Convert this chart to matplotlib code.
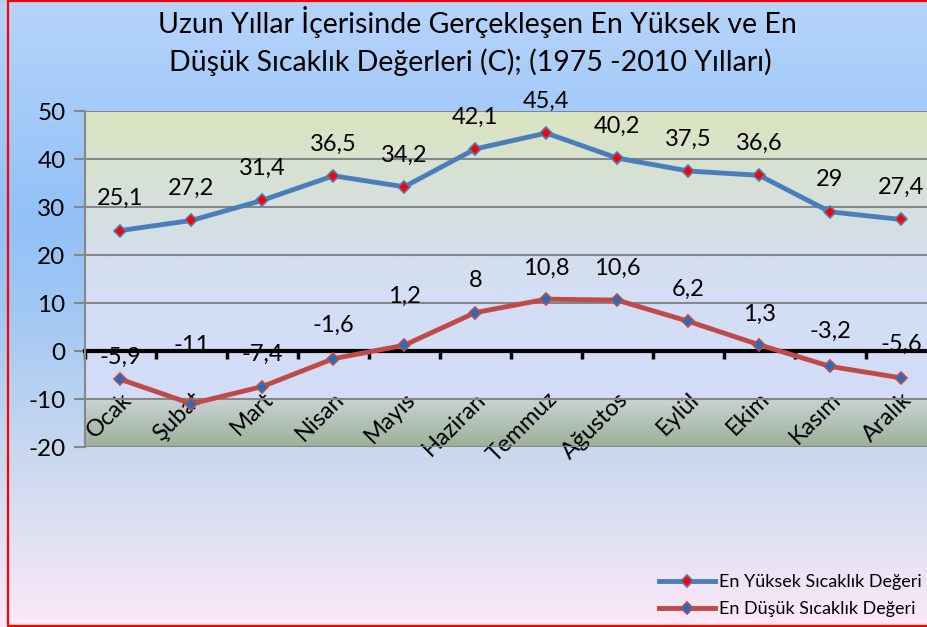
import matplotlib.pyplot as plt
import matplotlib.transforms as mtransforms
import numpy as np
from matplotlib.colors import LinearSegmentedColormap

plt.rcParams['font.family'] = ['Lato', 'DejaVu Sans']
plt.rcParams['axes.unicode_minus'] = False

months = ['Ocak', 'Şubat', 'Mart', 'Nisan', 'Mayıs', 'Haziran',
          'Temmuz', 'Ağustos', 'Eylül', 'Ekim', 'Kasım', 'Aralık']
max_temp = [25.1, 27.2, 31.4, 36.5, 34.2, 42.1, 45.4, 40.2, 37.5, 36.6, 29.0, 27.4]
min_temp = [-5.9, -11.0, -7.4, -1.6, 1.2, 8.0, 10.8, 10.6, 6.2, 1.3, -3.2, -5.6]
yticks = [-20, -10, 0, 10, 20, 30, 40, 50]

# label offsets (points) for the low series, the chart had some moved by hand
min_label_dy = [16, 42, 23, 24, 35, 23, 22, 23, 23, 22, 25, 24]

W, H = 928, 627
fig = plt.figure(figsize=(W / 100, H / 100), dpi=100)

# figure background gradient
bg = fig.add_axes([0, 0, 1, 1], zorder=-10)
bg_cmap = LinearSegmentedColormap.from_list('bg', [
    (0.0, '#b6d4fb'), (0.35, '#92c1f7'), (0.5, '#a2c8f4'),
    (0.72, '#c8d8ee'), (1.0, '#fce8f8')])
bg.imshow(np.linspace(0, 1, 256).reshape(-1, 1), cmap=bg_cmap, aspect='auto',
          extent=[0, 1, 0, 1])
bg.set_xlim(0, 1)
bg.set_ylim(0, 1)
bg.axis('off')
# red border
bg.plot([8.5 / W, 8.5 / W, 1.5, 1.5, 8.5 / W], [1 - 1 / H, 1.5 / H, 1.5 / H, 1 - 1 / H, 1 - 1 / H],
        color='red', lw=1.6, clip_on=False)

ax = fig.add_axes([85 / W, 180 / H, 851.5 / W, 336 / H])
ax.set_xlim(-0.5, 11.5)
ax.set_ylim(-20, 50)

# plot area gradient (bottom -> top)
pa_cmap = LinearSegmentedColormap.from_list('pa', [
    (0.0, '#9bb199'), (0.142, '#c9d3d6'), (0.143, '#d3dcf8'),
    (0.45, '#d4def6'), (0.62, '#d4dfe8'), (0.8, '#d7e1d4'), (1.0, '#dbe4bf')])
ax.imshow(np.linspace(0, 1, 512).reshape(-1, 1), cmap=pa_cmap, aspect='auto',
          origin='lower', extent=[-0.5, 11.5, -20, 50], zorder=0)

ax.set_yticks(yticks)
ax.yaxis.grid(True, color='#878787', lw=1.5, zorder=1)
ax.set_axisbelow(True)
for s in ['top', 'right']:
    ax.spines[s].set_visible(False)
ax.spines['left'].set_color('#878787')
ax.spines['left'].set_linewidth(1.5)
ax.spines['bottom'].set_position(('data', 0))
ax.spines['bottom'].set_color('black')
ax.spines['bottom'].set_linewidth(3)
ax.spines['bottom'].set_zorder(2)

ax.tick_params(axis='y', length=8, width=1.5, color='#878787', labelsize=17.5, pad=6)
ax.set_xticks(range(12))
ax.set_xticklabels(months, rotation=45, ha='right', rotation_mode='anchor', fontsize=17)
ax.tick_params(axis='x', which='major', length=0, pad=27)
shift = mtransforms.ScaledTranslation(0, 0, fig.dpi_scale_trans)
for lab in ax.get_xticklabels():
    lab.set_transform(lab.get_transform() + shift)
ax.set_xticks(np.arange(-0.5, 12, 1), minor=True)
ax.tick_params(axis='x', which='minor', length=6, width=2.5, color='black', direction='out')

x = np.arange(12)
l1, = ax.plot(x, max_temp, color='#4a7ebb', lw=3.5, marker='D', ms=6.5,
              mfc='red', mec='#4a7ebb', mew=1.2, zorder=3,
              label='En Yüksek Sıcaklık Değeri')
l2, = ax.plot(x, min_temp, color='#be4b48', lw=3.5, marker='D', ms=6.5,
              mfc='#1f6fc0', mec='#be4b48', mew=1.2, zorder=3,
              label='En Düşük Sıcaklık Değeri')

def fmt(v):
    return ('%g' % v).replace('.', ',')

for i, v in enumerate(max_temp):
    ax.annotate(fmt(v), (i, v), xytext=(0, 23), textcoords='offset points',
                ha='center', va='center', fontsize=17, zorder=4)
for i, v in enumerate(min_temp):
    ax.annotate(fmt(v), (i, v), xytext=(0, min_label_dy[i]), textcoords='offset points',
                ha='center', va='center', fontsize=17, zorder=4)

fig.text(477 / W, 1 - 22 / H, 'Uzun Yıllar İçerisinde Gerçekleşen En Yüksek ve En',
         ha='center', va='center', fontsize=20.5)
fig.text(470 / W, 1 - 62 / H, 'Düşük Sıcaklık Değerleri (C); (1975 -2010 Yılları)',
         ha='center', va='center', fontsize=20.5)

fig.legend(handles=[l1, l2], loc='upper left', bbox_to_anchor=(659 / W, 1 - 574 / H),
           frameon=False, fontsize=13, handlelength=3.1, handletextpad=0.25,
           labelspacing=0.6, borderpad=0, borderaxespad=0)

fig.savefig('out.png', dpi=100)
